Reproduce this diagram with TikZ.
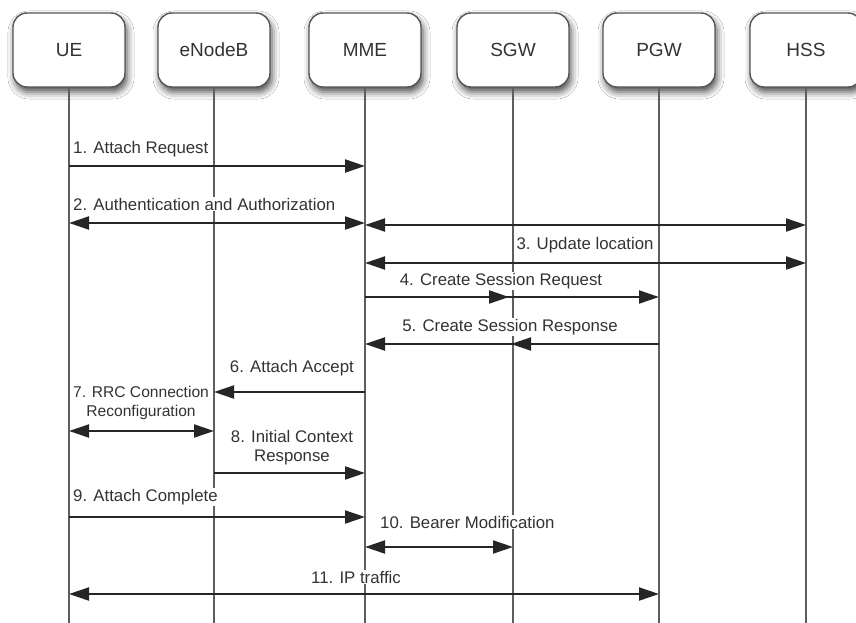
\documentclass[tikz,border=0pt]{standalone}
\usepackage{fontspec}
\setmainfont{Liberation Sans}
\usetikzlibrary{arrows.meta,shadows.blur}
\definecolor{ink}{HTML}{262626}
\definecolor{lifec}{HTML}{5E5E5E}
\definecolor{boxc}{HTML}{555555}
\definecolor{txt}{HTML}{333333}
\begin{document}
\begin{tikzpicture}[x=1pt,y=-1pt,
  entity/.style={draw=boxc, line width=1.4pt, fill=white, rounded corners=14pt,
    minimum width=112pt, minimum height=74pt, inner sep=0pt,
    font=\fontsize{19}{22}\selectfont, text=txt,
    blur shadow={shadow xshift=2pt, shadow yshift=-5pt, shadow blur radius=7pt, shadow opacity=70}},
  life/.style={draw=lifec, line width=1.3pt},
  tip/.style={Triangle[length=20pt,width=13pt]},
  msg/.style={draw=ink, line width=2pt, -{Triangle[length=20pt,width=13pt]}},
  bimsg/.style={draw=ink, line width=2pt, {Triangle[length=20pt,width=13pt]}-{Triangle[length=20pt,width=13pt]}},
  lbl/.style={fill=white, inner sep=1pt, text=txt, font=\fontsize{16.8}{19.5}\selectfont, align=center}]
\useasboundingbox (0,0) rectangle (856,623);
\fill[white] (0,0) rectangle (856,623);

% entities
\node[entity] (ue)  at (69,50)  {UE};
\node[entity] (enb) at (214,50) {eNodeB};
\node[entity] (mme) at (365,50) {MME};
\node[entity] (sgw) at (513,50) {SGW};
\node[entity] (pgw) at (659,50) {PGW};
\node[entity] (hss) at (806,50) {HSS};

% lifelines
\coordinate (bot) at (0,623);
\foreach \n in {ue,enb,mme,sgw,pgw,hss}
  \draw[life] (\n.south) -- (\n |- bot);

% message rows
\coordinate (r1) at (0,166);
\coordinate (r2) at (0,223);
\coordinate (r2b) at (0,225);
\coordinate (r3) at (0,263);
\coordinate (r4) at (0,297);
\coordinate (r5) at (0,344);
\coordinate (r6) at (0,392);
\coordinate (r7) at (0,431);
\coordinate (r8) at (0,473);
\coordinate (r9) at (0,517);
\coordinate (r10) at (0,547);
\coordinate (r11) at (0,594);

\draw[msg] (ue |- r1) -- (mme |- r1);
\draw[bimsg] (ue |- r2) -- (mme |- r2);
\draw[bimsg] (mme |- r2b) -- (hss |- r2b);
\draw[bimsg] (mme |- r3) -- (hss |- r3);
\draw[msg] (mme |- r4) -- (pgw |- r4);
\draw[msg, shorten >=4pt] (mme |- r4) -- (sgw |- r4);
\draw[msg] (pgw |- r5) -- (mme |- r5);
\draw[msg, shorten >=-2pt] (pgw |- r5) -- (sgw |- r5);
\draw[msg] (mme |- r6) -- (enb |- r6);
\draw[bimsg] (ue |- r7) -- (enb |- r7);
\draw[msg] (enb |- r8) -- (mme |- r8);
\draw[msg] (ue |- r9) -- (mme |- r9);
\draw[bimsg] (mme |- r10) -- (sgw |- r10);
\draw[bimsg] (ue |- r11) -- (pgw |- r11);

% labels
\node[lbl, anchor=west] (l1) at (72,149) {1. Attach Request};
\node[lbl, anchor=west] (l2) at (72,204) {2. Authentication and Authorization};
\node[lbl] (l3) at (585,245) {3. Update location};
\node[lbl] (l4) at (501,281) {4. Create Session Request};
\node[lbl] (l5) at (510,327) {5. Create Session Response};
\node[lbl, anchor=east] (l6) at (355,368) {6. Attach Accept};
\node[lbl, font=\fontsize{15.6}{19.5}\selectfont] (l7) at (141,403) {7. RRC Connection\\Reconfiguration};
\node[lbl] (l8) at (292,447.5) {8. Initial Context\\Response};
\node[lbl, anchor=west] (l9) at (72,497) {9. Attach Complete};
\node[lbl, anchor=west] (l10) at (379,522) {10. Bearer Modification};
\node[lbl] (l11) at (356,577) {11. IP traffic};
\end{tikzpicture}
\end{document}
